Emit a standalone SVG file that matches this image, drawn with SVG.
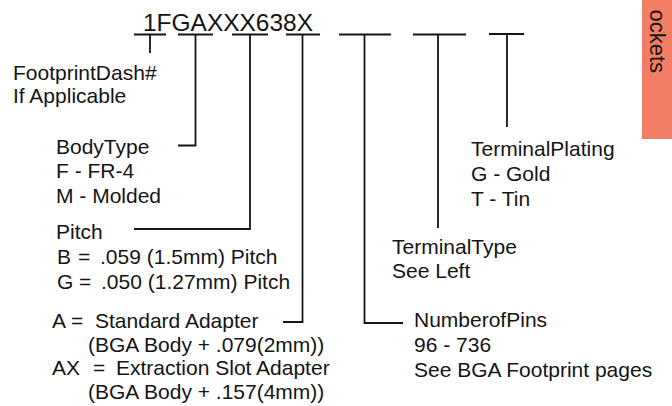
<svg xmlns="http://www.w3.org/2000/svg" width="672" height="406" viewBox="0 0 672 406">
<style>
  .t { font-family: "Liberation Sans", Arial, sans-serif; font-size: 21px; fill: #141414; }
  .title { font-family: "Liberation Sans", Arial, sans-serif; font-size: 24.5px; fill: #141414; }
  .ln { stroke: #141414; stroke-width: 1.8; fill: none; }
</style>
<rect width="672" height="406" fill="#ffffff"/>
<g id="tab">
  <rect x="642" y="0" width="30" height="139" fill="#F27F65"/>
  <text class="t" style="font-size:22px" transform="translate(650,73) rotate(90)" text-anchor="end">ockets</text>
</g>
<g id="title">
  <text class="title" x="143" y="31" textLength="170" lengthAdjust="spacingAndGlyphs">1FGAXXX638X</text>
</g>
<g id="connectors">
  <path class="ln" d="M134,34.5 H166 M150,34.5 V53"/>
  <path class="ln" d="M178,34.5 H213 M195.5,34.5 V145.5 H178"/>
  <path class="ln" d="M232,34.5 H268 M250,34.5 V229 H134"/>
  <path class="ln" d="M286,34.5 H320 M302.5,34.5 V322 H283"/>
  <path class="ln" d="M339,34.5 H391 M364.5,34.5 V323 H403"/>
  <path class="ln" d="M413,34.5 H466 M438,34.5 V228"/>
  <path class="ln" d="M489,34 H524 M507,34 V127"/>
</g>
<g id="footprint">
  <text class="t" x="13" y="80">FootprintDash#</text>
  <text class="t" x="13" y="103">If Applicable</text>
</g>
<g id="bodytype">
  <text class="t" x="56" y="154">BodyType</text>
  <text class="t" x="56" y="178">F - FR-4</text>
  <text class="t" x="56" y="203">M - Molded</text>
</g>
<g id="pitch">
  <text class="t" x="56" y="239">Pitch</text>
  <text class="t" y="264"><tspan x="57">B</tspan><tspan x="78">=</tspan><tspan x="100">.059 (1.5mm) Pitch</tspan></text>
  <text class="t" y="289"><tspan x="57">G</tspan><tspan x="79">=</tspan><tspan x="101">.050 (1.27mm) Pitch</tspan></text>
</g>
<g id="adapter">
  <text class="t" y="328"><tspan x="52">A</tspan><tspan x="71">=</tspan><tspan x="95">Standard Adapter</tspan></text>
  <text class="t" x="88" y="352">(BGA Body + .079(2mm))</text>
  <text class="t" y="375"><tspan x="52">AX</tspan><tspan x="93">=</tspan><tspan x="116">Extraction Slot Adapter</tspan></text>
  <text class="t" x="88" y="399">(BGA Body + .157(4mm))</text>
</g>
<g id="plating">
  <text class="t" x="471" y="156">TerminalPlating</text>
  <text class="t" x="471" y="181">G - Gold</text>
  <text class="t" x="471" y="206">T - Tin</text>
</g>
<g id="terminaltype">
  <text class="t" x="392" y="254">TerminalType</text>
  <text class="t" x="392" y="278">See Left</text>
</g>
<g id="pins">
  <text class="t" x="414" y="327">NumberofPins</text>
  <text class="t" x="414" y="352">96 - 736</text>
  <text class="t" x="414" y="377">See BGA Footprint pages</text>
</g>
</svg>
